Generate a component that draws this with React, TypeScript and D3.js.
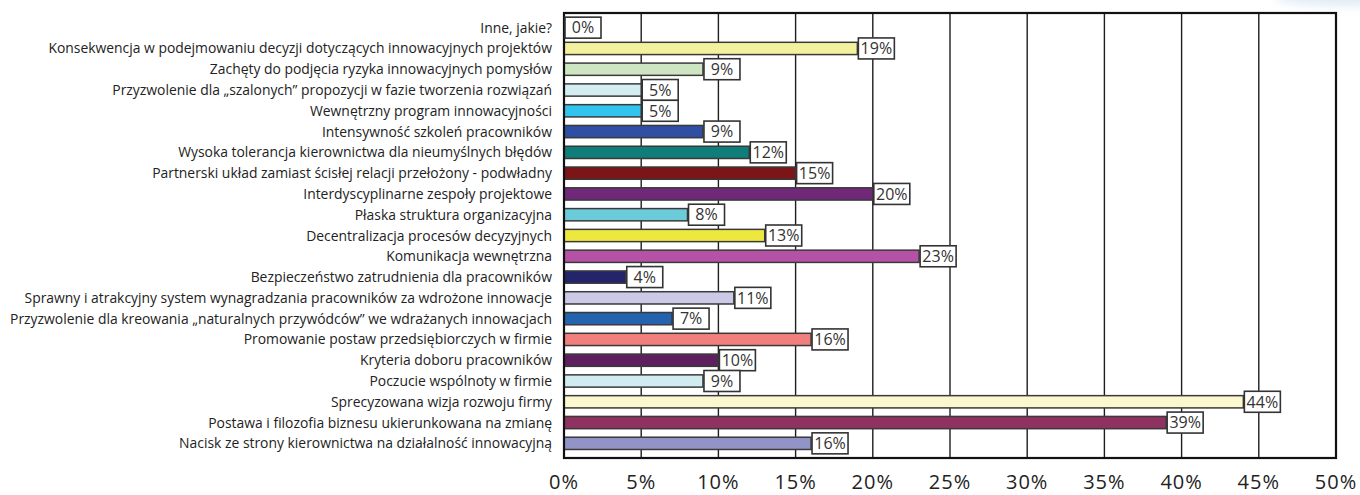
import React from "react";
import * as d3 from "d3";

// Survey answers, listed top to bottom as they appear on the chart
const categories: string[] = [
  "Inne, jakie?",
  "Konsekwencja w podejmowaniu decyzji dotyczących innowacyjnych projektów",
  "Zachęty do podjęcia ryzyka innowacyjnych pomysłów",
  "Przyzwolenie dla „szalonych” propozycji w fazie tworzenia rozwiązań",
  "Wewnętrzny program innowacyjności",
  "Intensywność szkoleń pracowników",
  "Wysoka tolerancja kierownictwa dla nieumyślnych błędów",
  "Partnerski układ zamiast ścisłej relacji przełożony - podwładny",
  "Interdyscyplinarne zespoły projektowe",
  "Płaska struktura organizacyjna",
  "Decentralizacja procesów decyzyjnych",
  "Komunikacja wewnętrzna",
  "Bezpieczeństwo zatrudnienia dla pracowników",
  "Sprawny i atrakcyjny system wynagradzania pracowników za wdrożone innowacje",
  "Przyzwolenie dla kreowania „naturalnych przywódców” we wdrażanych innowacjach",
  "Promowanie postaw przedsiębiorczych w firmie",
  "Kryteria doboru pracowników",
  "Poczucie wspólnoty w firmie",
  "Sprecyzowana wizja rozwoju firmy",
  "Postawa i filozofia biznesu ukierunkowana na zmianę",
  "Nacisk ze strony kierownictwa na działalność innowacyjną",
];

// Share of respondents, in percent
const values: number[] = [0, 19, 9, 5, 5, 9, 12, 15, 20, 8, 13, 23, 4, 11, 7, 16, 10, 9, 44, 39, 16];

const barColors: string[] = [
  "#ffffff",
  "#f4f19e",
  "#cde6c1",
  "#d3edf1",
  "#31c4ef",
  "#2e4fa4",
  "#0f7d79",
  "#7c1518",
  "#722878",
  "#6ccbd8",
  "#ede83f",
  "#b552a5",
  "#23246b",
  "#cbc9e6",
  "#2464ae",
  "#f17f7d",
  "#5e1f5f",
  "#d0ecf1",
  "#fbf7cf",
  "#8f3161",
  "#9294c7",
];

const tickValues: number[] = [0, 5, 10, 15, 20, 25, 30, 35, 40, 45, 50];

const W = 1360;
const H = 495;
const plot = { left: 564, right: 1336, top: 13, bottom: 458 };

const FONT = "'Open Sans', 'Noto Sans', sans-serif";

export default function App() {
  const x = d3.scaleLinear().domain([0, 50]).range([plot.left, plot.right]);
  const y = d3
    .scaleBand<string>()
    .domain(categories)
    .range([plot.top, plot.bottom])
    .paddingInner(0.41)
    .paddingOuter(0.41);
  const bw = y.bandwidth();
  const boxW = 36;
  const boxH = 21;

  return (
    <svg
      width={W}
      height={H}
      viewBox={`0 0 ${W} ${H}`}
      style={{ position: "absolute", left: 0, top: 0, background: "#fff" }}
      fontFamily={FONT}
    >
      <defs>
        <filter id="soft" x="-50%" y="-200%" width="200%" height="500%">
          <feGaussianBlur stdDeviation="4" />
        </filter>
      </defs>
      {/* faint bluish haze in the top-right corner */}
      <ellipse cx={1345} cy={-2} rx={70} ry={8} fill="#d6e4f3" opacity={0.7} filter="url(#soft)" />

      {/* vertical gridlines */}
      {tickValues
        .filter((t) => t > 0 && t < 50)
        .map((t) => (
          <line
            key={`g${t}`}
            x1={x(t)}
            x2={x(t)}
            y1={plot.top}
            y2={plot.bottom}
            stroke="#1e1e1e"
            strokeWidth={1.4}
          />
        ))}

      {/* bars */}
      {categories.map((c, i) =>
        values[i] > 0 ? (
          <rect
            key={`b${i}`}
            x={x(0)}
            y={y(c)!}
            width={x(values[i]) - x(0)}
            height={bw}
            fill={barColors[i]}
            stroke="#3a3a3a"
            strokeWidth={1.5}
          />
        ) : null
      )}

      {/* plot frame */}
      <rect
        x={plot.left}
        y={plot.top}
        width={plot.right - plot.left}
        height={plot.bottom - plot.top}
        fill="none"
        stroke="#111"
        strokeWidth={2.2}
      />

      {/* value boxes */}
      {categories.map((c, i) => {
        const cy = y(c)! + bw / 2;
        const bx = x(values[i]) + 1;
        return (
          <g key={`v${i}`}>
            <rect
              x={bx}
              y={cy - boxH / 2}
              width={boxW}
              height={boxH}
              fill="#fff"
              stroke="#333"
              strokeWidth={1.6}
            />
            <text
              x={bx + boxW / 2}
              y={cy}
              dy="0.36em"
              textAnchor="middle"
              fontSize={16}
              fill="#333"
            >
              {values[i]}%
            </text>
          </g>
        );
      })}

      {/* category labels */}
      {categories.map((c) => (
        <text
          key={`l${c}`}
          x={552}
          y={y(c)! + bw / 2}
          dy="0.36em"
          textAnchor="end"
          fontSize={13.9}
          fill="#222"
        >
          {c}
        </text>
      ))}

      {/* axis tick labels */}
      {tickValues.map((t) => (
        <text
          key={`t${t}`}
          x={x(t)}
          y={489}
          textAnchor="middle"
          fontSize={20}
          letterSpacing={1}
          fill="#222"
        >
          {t}%
        </text>
      ))}
    </svg>
  );
}
